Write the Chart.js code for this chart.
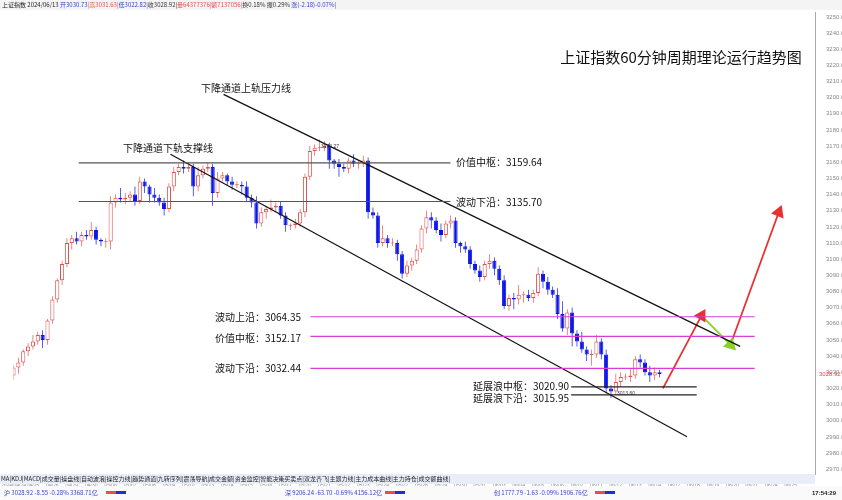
<!DOCTYPE html>
<html><head><meta charset="utf-8">
<script src="https://cdn.jsdelivr.net/npm/chart.js@4/dist/chart.umd.min.js"></script>
<style>html,body{margin:0;padding:0;background:#fff}#wrap{width:842px;height:500px}</style>
</head><body><div id="wrap"><canvas id="c" width="842" height="500"></canvas></div>
<script>
// 收盘价（60分钟K线）
const closes = [3033,3036,3043,3046,3049,3053,3050,3062,3075,3087,3097,3110,3113,3111,3115,3114,3118,3112,3111,3111,
  3135,3138,3137,3138,3140,3136,3148,3145,3140,3138,3135,3131,3145,3154,3157,3156,3157,3145,3152,3156,
  3157,3141,3150,3152,3148,3146,3146,3145,3138,3135,3122,3129,3131,3132,3133,3127,3121,3121,3122,3129,
  3151,3167,3169,3169,3170,3161,3159,3157,3156,3161,3159,3159,3161,3129,3127,3110,3113,3110,3110,3103,
  3091,3096,3099,3106,3119,3126,3124,3118,3115,3122,3124,3110,3108,3106,3097,3093,3089,3097,3099,3094,
  3087,3071,3076,3075,3078,3078,3076,3079,3091,3086,3081,3078,3066,3057,3067,3054,3049,3044,3041,3041,
  3049,3041,3020,3018,3024,3027,3027,3028,3038,3036,3030,3028,3030,3028.92];
const firstOpen = 3028;
const wickUp = [2,3,1,2,4,2,3,1,2,1,2,3,2,4,2,3,5,2,1,2,4,2,6,3,2,5,3,2,1,4,2,3,2,3,2,4,3,2,5,2,
  3,2,4,2,1,3,2,2,3,2,4,3,2,5,2,3,2,1,3,2,2,3,2,5,3,2,1,3,2,2,4,2,3,2,3,2,8,2,3,2,
  2,3,2,3,2,4,3,2,4,2,3,2,1,3,2,2,3,2,4,2,2,3,2,3,6,2,3,2,4,2,3,2,4,8,2,3,2,6,2,3,
  4,2,3,2,5,3,2,4,2,3,2,4,3,1.5];
const wickDn = [3,4,2,3,2,2,5,3,2,2,3,2,4,2,3,2,2,3,3,4,5,3,2,3,2,3,2,4,5,3,2,4,2,3,2,3,2,6,3,2,
  2,8,3,2,2,3,2,5,2,3,3,2,4,2,3,2,4,3,2,2,3,2,3,2,2,5,3,6,2,3,2,3,2,4,2,3,2,3,2,4,
  3,2,3,2,2,3,5,2,4,2,3,3,4,2,3,2,3,2,3,4,3,2,3,6,3,5,2,3,2,4,3,2,3,2,4,8,3,2,4,7,
  2,3,3,4,2,3,2,3,2,3,2,4,3,2];
const nSlots = 166;
const tradeDays = ['2024/04/24','04/25','04/26','04/29','04/30','05/06','05/07','05/08','05/09','05/10','05/13','05/14','05/15','05/16','05/17','05/20','05/21','05/22','05/23','05/24','05/27','05/28','05/29','05/30','05/31','06/03','06/04','06/05','06/06','06/07','06/11','06/12','06/13','06/14','06/17','06/18','06/19','06/20','06/21','06/24','06/25'];
const yTicks = {min:2967, max:3253, step:10};
// 水平线: [值, 起点索引, 终点索引, 颜色]
const levelVals = [3159.64,3135.70,3064.35,3052.17,3032.44,3020.90,3015.95];
const levelFrom = [13,13,61,61,61,115,115];
const levelTo   = [90,90,153,153,153,141,141];
const levelColor = ['#555','#555','#d63fd6','#d63fd6','#d63fd6','#222','#222'];
// 下降通道
const upperRail = [[43,3202],[150,3046]];
const lowerRail = [[32,3165],[139,2990]];
// 预测路径
const pathRed1 = [[134,3020],[142,3065]];
const pathGreen = [[142,3065],[148,3047]];
const pathRed2 = [[148,3047],[158,3129]];

const opens = closes.map((c,i)=> i===0 ? firstOpen : closes[i-1]);
const labels = Array.from({length:nSlots},(_,i)=> (i%4===0 && tradeDays[i/4]) ? tradeDays[i/4] : '');
const UP='#e0524f', DN='#0a14e6';
const colorOf = i => closes[i]>=opens[i] ? UP : DN;
const bodies = closes.map((c,i)=>{ const o=opens[i]; return Math.abs(c-o)<0.6 ? [o-0.3,c+0.3] : [o,c]; });
const wicks = closes.map((c,i)=>[Math.min(c,opens[i])-wickDn[i], Math.max(c,opens[i])+wickUp[i]]);
const seg = (pts,color,w)=>({type:'line',data:pts.map(p=>({x:p[0],y:p[1]})),borderColor:color,borderWidth:w,pointRadius:0,xAxisID:'xl',order:0});
const arrowSeg = (pts,color,rot)=>({type:'line',data:pts.map(p=>({x:p[0],y:p[1]})),borderColor:color,backgroundColor:color,borderWidth:1.8,
  pointRadius:[0,6],pointStyle:'triangle',rotation:rot,xAxisID:'xl',order:0});

const datasets = [
  {type:'bar',data:wicks,backgroundColor:closes.map((c,i)=>colorOf(i)),barPercentage:0.14,categoryPercentage:1,order:3,grouped:false},
  {type:'bar',data:bodies,backgroundColor:closes.map((c,i)=>closes[i]>=opens[i]?'#fff':DN),borderColor:closes.map((c,i)=>colorOf(i)),borderWidth:1,borderSkipped:false,barPercentage:0.85,categoryPercentage:1,order:2,grouped:false},
];
levelVals.forEach((v,k)=>datasets.push(seg([[levelFrom[k],v],[levelTo[k],v]],levelColor[k],1.2)));
datasets.push(seg(upperRail,'#111',1.2), seg(lowerRail,'#111',1.2));
datasets.push(arrowSeg(pathRed1,'#e8322f',30), arrowSeg(pathGreen,'#8ccf2a',135), arrowSeg(pathRed2,'#e8322f',22));

const texts = {
  id:'texts',
  afterDraw(ch){
    const g=ch.ctx, sy=ch.scales.y;
    g.save();
    // 顶部信息栏
    g.fillStyle='#f4f4f4'; g.fillRect(0,0,842,10);
    g.font='6px "Noto Sans CJK SC"'; g.textBaseline='middle'; g.textAlign='left';
    const head=[['上证指数 2024/06/13 ','#222'],['开3030.73','#3344cc'],['|高3031.63|','#e0524f'],['低3022.82|','#3344cc'],['收3028.92|','#333'],['量64377376|额7137056|','#e0524f'],['换0.18% 振0.29% ','#333'],['涨(-2.18)-0.07%|','#3344cc']];
    let x=2; head.forEach(h=>{g.fillStyle=h[1]; g.fillText(h[0],x,5); x+=g.measureText(h[0]).width;});
    g.font='15px "Noto Sans CJK SC"'; g.fillStyle='#111'; g.textAlign='center';
    g.fillText('上证指数60分钟周期理论运行趋势图',681,57);
    g.font='10px "Noto Sans CJK SC"';
    g.fillText('下降通道上轨压力线',246,88);
    g.fillText('下降通道下轨支撑线',168,148);
    g.textAlign='left';
    g.fillText('价值中枢：3159.64',456,162);
    g.fillText('波动下沿：3135.70',456,202);
    g.textAlign='right';
    g.fillText('波动上沿：3064.35',301,317);
    g.fillText('价值中枢：3152.17',301,338);
    g.fillText('波动下沿：3032.44',301,368);
    g.fillText('延展浪中枢：3020.90',569,386);
    g.fillText('延展浪下沿：3015.95',569,398);
    g.font='5px sans-serif'; g.textAlign='left'; g.fillStyle='#333';
    g.fillText('3174.27',321,147); g.fillText('3013.60',617,394);
    // 最新价标签
    g.fillStyle='#e0524f'; g.font='6px sans-serif'; g.fillText('3028.92',819,sy.getPixelForValue(3028.92));
    // 底部栏
    g.fillStyle='#e8edf7'; g.fillRect(0,474,815,10);
    g.fillStyle='#222'; g.font='6px "Noto Sans CJK SC"'; g.textAlign='left';
    g.fillText('MA|KDJ|MACD|成交量|操盘线|自动波浪|操控力线|趋势通道|九转序列|震荡导航|成交金额|资金监控|智能决策买卖点|双龙齐飞|主题力线|主力成本曲线|主力持仓|成交额曲线|',1,479);
    g.fillStyle='#fafafa'; g.fillRect(0,486,842,14);
    g.fillStyle='#3344cc';
    g.fillText('沪 3028.92 -8.55 -0.28% 3368.71亿',4,493);
    g.fillText('深 9206.24 -63.70 -0.69% 4156.12亿',285,493);
    g.fillText('创 1777.79 -1.63 -0.09% 1906.76亿',494,493);
    [106,385,595].forEach(p=>{g.fillStyle='#e0524f';g.fillRect(p,491,10,3);g.fillStyle='#2030d0';g.fillRect(p+10,491,10,3);});
    g.fillStyle='#222'; g.font='bold 6px sans-serif'; g.fillText('17:54:29',812,493);
    g.restore();
  }
};

new Chart(document.getElementById('c'),{
  data:{labels,datasets},
  options:{
    responsive:false,animation:false,
    layout:{padding:{top:12,bottom:10,left:0,right:0}},
    plugins:{legend:{display:false},tooltip:{enabled:false}},
    scales:{
      x:{offset:false,grid:{display:false},border:{color:'#aaa'},
        ticks:{autoSkip:false,maxRotation:0,font:{size:5},color:'#888',padding:1}},
      xl:{type:'linear',display:false,min:-0.5,max:nSlots-0.5},
      y:{position:'right',min:yTicks.min,max:yTicks.max,grid:{display:false},border:{color:'#aaa'},
        afterBuildTicks(s){const t=[];for(let v=2970;v<=3250;v+=yTicks.step)t.push({value:v});s.ticks=t;},
        afterFit(s){s.width=27;},
        ticks:{font:{size:6},color:'#888',callback:v=>v.toFixed(2)}}
    }
  },
  plugins:[texts]
});
</script></body></html>
